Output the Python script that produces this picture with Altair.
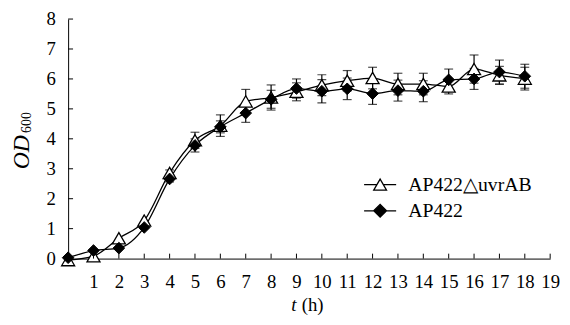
import altair as alt
import pandas as pd

# ---- data ----
hours = list(range(19))
mutant = [-0.05, 0.08, 0.68, 1.27, 2.86, 3.95, 4.44, 5.25, 5.38, 5.57, 5.79, 5.94, 6.03, 5.83, 5.83, 5.75, 6.33, 6.12, 6.01]
mutant_err = [0, 0, 0, 0, 0.1, 0.27, 0.36, 0.4, 0.42, 0.3, 0.35, 0.34, 0.36, 0.36, 0.36, 0.25, 0.47, 0.3, 0.38]
wild = [0.03, 0.27, 0.35, 1.04, 2.66, 3.78, 4.4, 4.86, 5.32, 5.68, 5.59, 5.67, 5.51, 5.61, 5.59, 5.97, 6.0, 6.23, 6.09]
wild_err = [0, 0, 0, 0, 0.1, 0.22, 0.2, 0.31, 0.3, 0.32, 0.39, 0.36, 0.36, 0.35, 0.35, 0.36, 0.35, 0.4, 0.4]
series_names = ["AP422\u25b3uvrAB", "AP422"]
x_ticks = list(range(1, 20))
y_ticks = list(range(0, 9))

FONT = "Liberation Serif"
W, H = 489, 243

rows = []
for name, vals, errs in [(series_names[0], mutant, mutant_err), (series_names[1], wild, wild_err)]:
    for t, v, e in zip(hours, vals, errs):
        rows.append({"t": t, "od": v, "lo": v - e, "hi": v + e, "err": e, "series": name})
df = pd.DataFrame(rows)

xs = alt.Scale(domain=[0, 19], nice=False)
ys = alt.Scale(domain=[0, 8], nice=False)
xax = alt.Axis(values=x_ticks, ticks=False, grid=False, title=None, domainColor="black",
               labelFont=FONT, labelFontSize=19, labelColor="black", labelPadding=14,
               labelFlush=False, labelOverlap=False, labelBound=False)
yax = alt.Axis(values=y_ticks, ticks=False, grid=False, title=None, domainColor="black",
               labelFont=FONT, labelFontSize=19, labelColor="black", labelPadding=13,
               labelOverlap=False, labelFlush=False, labelBound=False)
X = alt.X("t:Q", scale=xs, axis=xax)
Y = alt.Y("od:Q", scale=ys, axis=yax)
Ylo = alt.Y("lo:Q", scale=ys, axis=yax)

base = alt.Chart(df)

err_layer = base.transform_filter("datum.err > 0").mark_errorbar(
    color="black", thickness=1.2, ticks={"size": 9, "thickness": 1.2, "color": "black"}
).encode(x=X, y=Ylo, y2="hi:Q")

line_mut = base.transform_filter(alt.datum.series == series_names[0]).mark_line(
    color="black", strokeWidth=1.3, interpolate="monotone", clip=False
).encode(x=X, y=Y)
line_wt = base.transform_filter(alt.datum.series == series_names[1]).mark_line(
    color="black", strokeWidth=1.3, interpolate="monotone", clip=False
).encode(x=X, y=Y)

pts_mut = base.transform_filter(alt.datum.series == series_names[0]).mark_point(
    shape="triangle-up", size=175, fill="white", stroke="black", strokeWidth=1.3,
    opacity=1, fillOpacity=1, clip=False
).encode(x=X, y=Y)
pts_wt = base.transform_filter(alt.datum.series == series_names[1]).mark_point(
    shape="diamond", size=140, fill="black", stroke="black", strokeWidth=1,
    opacity=1, fillOpacity=1, clip=False
).encode(x=X, y=Y)

# legend-only layer (no marks drawn, only the legend entries)
tri_path = "M-2.5,0H-0.5M0.5,0H2.5M0,-0.866L1,0.866L-1,0.866Z"
dia_path = "M-2.5,0H2.5M-1,0L0,-1L1,0L0,1Z"
leg = alt.Legend(title=None, orient="none", legendX=306.5, legendY=158,
                 labelFont=FONT, labelFontSize=20, labelColor="black",
                 labelOffset=18.5, rowPadding=6.5, padding=0,
                 symbolStrokeWidth=1.3, symbolSize=169, labelLimit=300)
legend_layer = base.transform_filter("datum.t < -100").mark_point(
    size=169, strokeWidth=1.3, opacity=1, fillOpacity=1, filled=True
).encode(
    x=X, y=Y,
    shape=alt.Shape("series:N", scale=alt.Scale(domain=series_names, range=[tri_path, dia_path]), legend=leg),
    fill=alt.Fill("series:N", scale=alt.Scale(domain=series_names, range=["white", "black"]), legend=leg),
    stroke=alt.Stroke("series:N", scale=alt.Scale(domain=series_names, range=["black", "black"]), legend=leg),
)

# inward ticks
xt = alt.Chart(pd.DataFrame({"t": x_ticks})).mark_rule(color="black", strokeWidth=1).encode(
    x=X, y=alt.value(H), y2=alt.value(H - 5))
yt = alt.Chart(pd.DataFrame({"od": y_ticks[1:]})).mark_rule(color="black", strokeWidth=1).encode(
    y=Y, x=alt.value(0), x2=alt.value(5))

# axis titles
od_t = alt.Chart(pd.DataFrame({"s": ["OD"]})).mark_text(
    font=FONT, fontSize=24, fontStyle="italic", angle=270, align="center",
    baseline="alphabetic", color="black"
).encode(text="s:N", x=alt.value(-39.5), y=alt.value(135))
sub_t = alt.Chart(pd.DataFrame({"s": ["600"]})).mark_text(
    font=FONT, fontSize=14, angle=270, align="center", baseline="alphabetic", color="black"
).encode(text="s:N", x=alt.value(-37.3), y=alt.value(105))
t_t = alt.Chart(pd.DataFrame({"s": ["t"]})).mark_text(
    font=FONT, fontSize=19, fontStyle="italic", align="center", baseline="alphabetic", color="black"
).encode(text="s:N", x=alt.value(229), y=alt.value(296))
h_t = alt.Chart(pd.DataFrame({"s": ["(h)"]})).mark_text(
    font=FONT, fontSize=19, align="center", baseline="alphabetic", color="black"
).encode(text="s:N", x=alt.value(248), y=alt.value(296))

chart = alt.layer(
    err_layer, line_mut, line_wt, pts_mut, pts_wt, legend_layer, xt, yt, od_t, sub_t, t_t, h_t
).properties(
    width=W, height=H, autosize="none",
    padding={"left": 61, "top": 9, "right": 12, "bottom": 55},
    background="white",
).configure_view(stroke=None).configure_axis(
    labelFont=FONT, labelFontSize=19, labelColor="black", labelOverlap=False
).configure_legend(labelFont=FONT, labelFontSize=20)

chart.save("out.html", embed_options={"renderer": "svg", "actions": False})
